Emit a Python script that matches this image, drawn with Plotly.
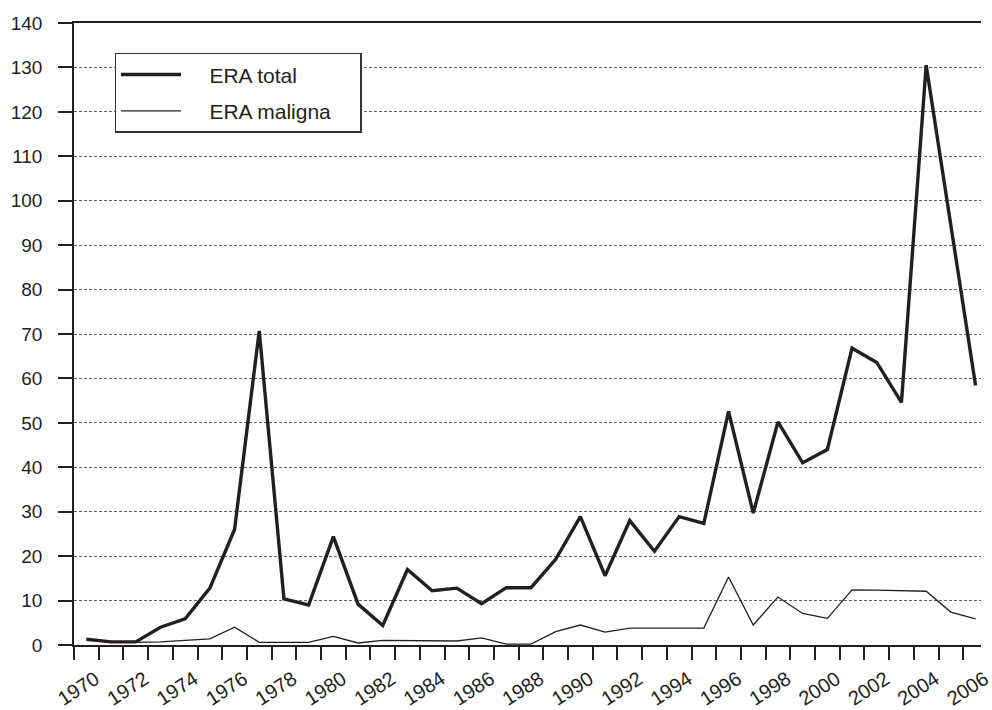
import plotly.graph_objects as go

years = list(range(1970, 2007))
era_total = [1.3, 0.7, 0.7, 4.0, 5.9, 12.8, 26.0, 70.7, 10.4, 9.0, 24.4, 9.2, 4.4,
             17.0, 12.2, 12.8, 9.3, 12.9, 12.9, 19.3, 28.9, 15.6, 28.0, 21.1, 28.9,
             27.4, 52.6, 29.7, 50.2, 41.0, 44.0, 66.8, 63.6, 54.6, 130.5, 94.4, 58.4]
era_maligna = [1.3, 0.8, 0.6, 0.7, 1.05, 1.4, 4.0, 0.6, 0.6, 0.6, 1.95, 0.45, 1.05,
               1.05, 1.0, 0.9, 1.6, 0.2, 0.2, 3.0, 4.5, 2.9, 3.8, 3.8, 3.8,
               3.8, 15.3, 4.5, 10.8, 7.1, 6.0, 12.4, 12.35, 12.3, 12.1, 7.4, 5.9]
label_years = list(range(1970, 2007, 2))
y_ticks = list(range(0, 141, 10))
series_names = ["ERA total", "ERA maligna"]

ink = "#231f20"
font_family = "Liberation Sans, Arial, sans-serif"
pad = "\u00a0" * 4

fig = go.Figure()
fig.add_trace(go.Scatter(x=years, y=era_total, mode="lines",
                         name=pad + series_names[0] + pad,
                         legendgroup="a",
                         line=dict(color=ink, width=3.4)))
fig.add_trace(go.Scatter(x=years, y=era_maligna, mode="lines",
                         name=pad + series_names[1] + pad,
                         legendgroup="b",
                         line=dict(color=ink, width=1.3)))

fig.update_layout(
    width=992, height=710,
    margin=dict(l=74, r=0, t=23, b=64),
    paper_bgcolor="white", plot_bgcolor="white",
    font=dict(family=font_family, size=19, color=ink),
    showlegend=True,
    legend=dict(
        x=0.0447, y=0.952, xanchor="left", yanchor="top",
        bordercolor="#333333", borderwidth=1.5, bgcolor="white",
        font=dict(size=21, color=ink),
        itemwidth=60, tracegroupgap=6,
    ),
)

fig.update_xaxes(
    range=[1969.5, 1969.5 + 918 / 25],
    tickmode="array", tickvals=label_years, ticktext=[str(v) for v in label_years],
    tickangle=-33, ticks="", ticklabelshift=9, ticklabelstandoff=13,
    ticklabeloverflow="allow",
    showgrid=False, zeroline=False,
    showline=True, linecolor=ink, linewidth=1.5, mirror=True,
    minor=dict(tick0=1969.5, dtick=1, ticks="outside", ticklen=13,
               tickcolor=ink, tickwidth=1.5, showgrid=False),
    tickfont=dict(size=20, color=ink),
)
fig.update_yaxes(
    range=[0, 140], tickmode="array", tickvals=y_ticks,
    ticks="outside", ticklen=14, tickcolor=ink, tickwidth=1.5,
    showline=True, linecolor=ink, linewidth=1.5,
    showgrid=True, gridcolor="#666666", gridwidth=1, griddash="3px,2px",
    zeroline=False, ticklabelstandoff=12,
    tickfont=dict(size=19, color=ink),
)

fig.write_html("out.html",
               config={"displayModeBar": False},
               post_script="document.body.style.margin='0';document.body.style.overflow='hidden';")
